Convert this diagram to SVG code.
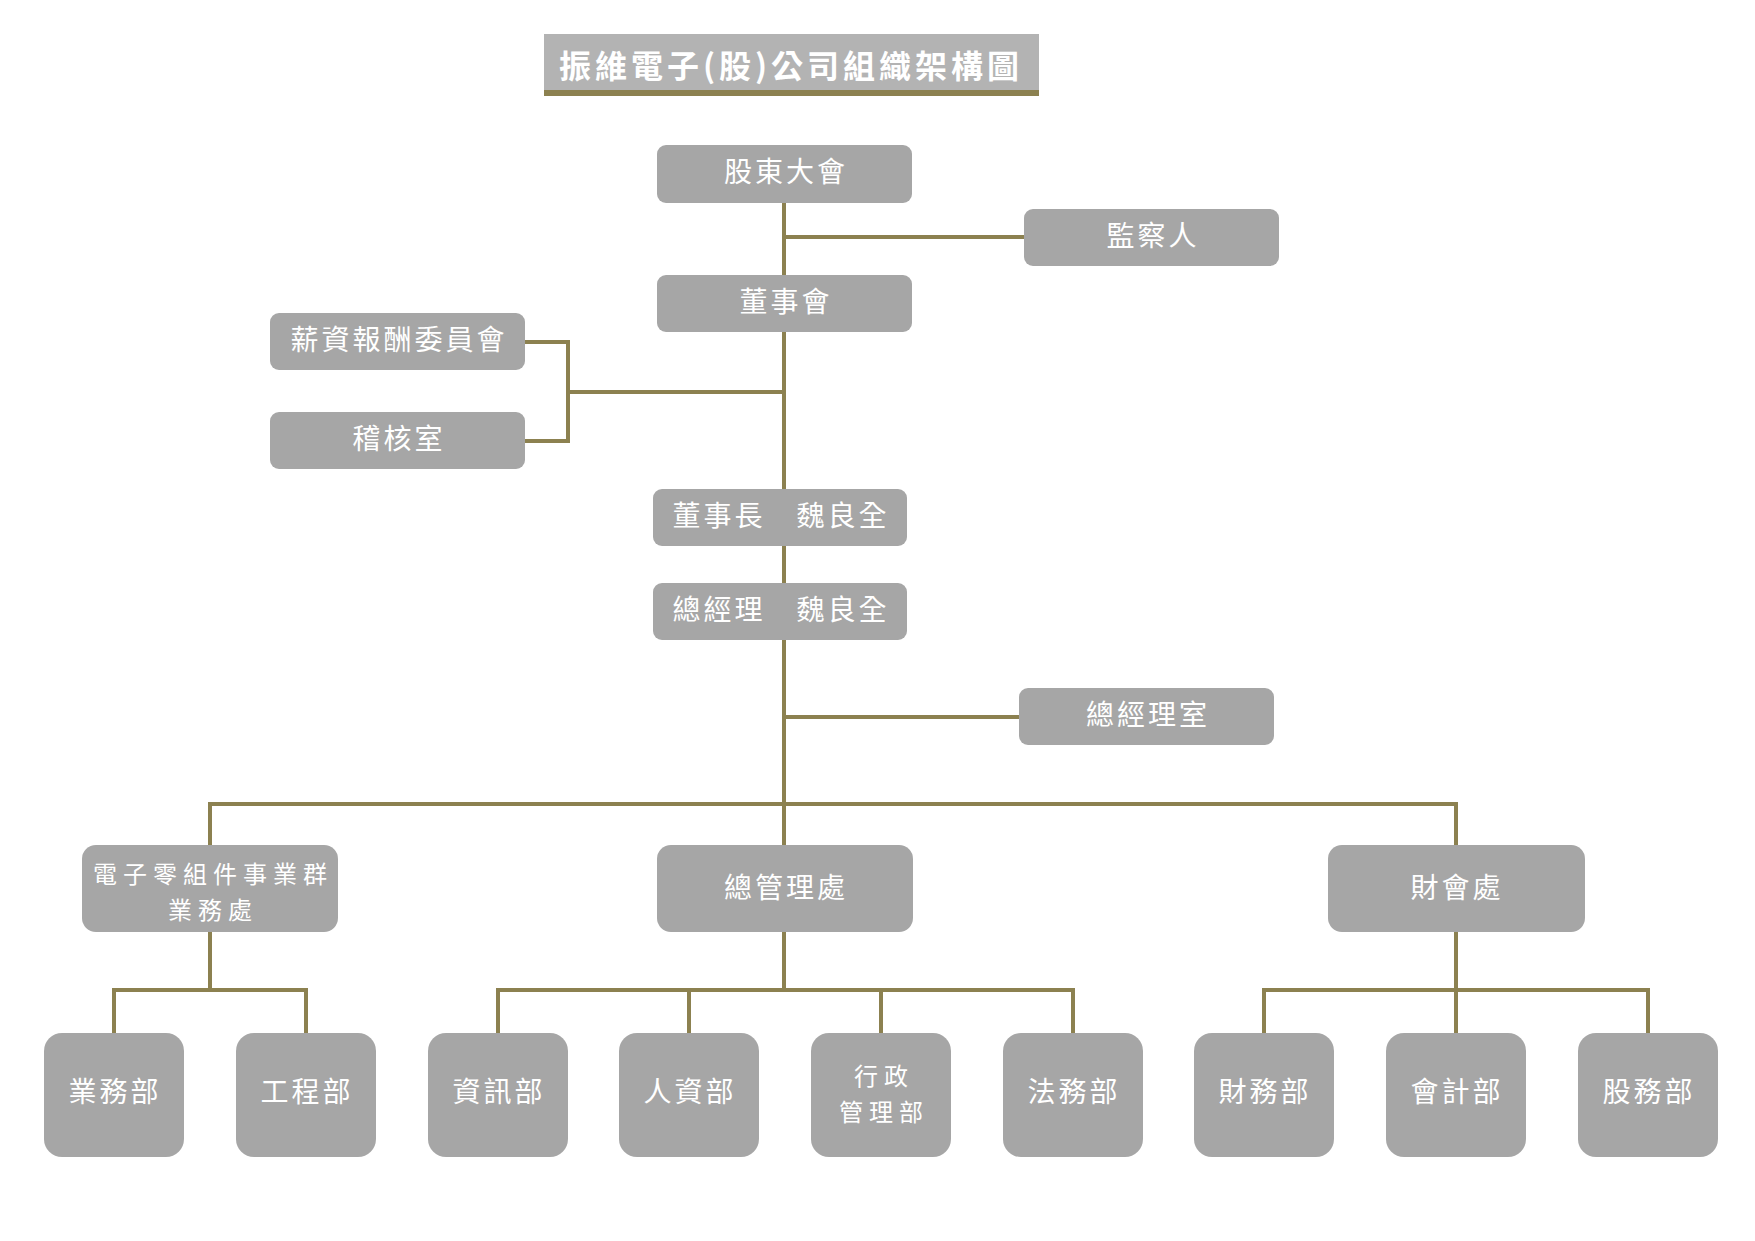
<svg xmlns="http://www.w3.org/2000/svg" width="1755" height="1241" viewBox="0 0 1755 1241">
<style>
.box{fill:#a6a6a6}
.t{font-family:"Noto Sans CJK TC","Noto Sans CJK SC",sans-serif;font-size:28px;fill:#ffffff;text-anchor:middle;dominant-baseline:central;letter-spacing:3px}
.t2{font-size:24px;letter-spacing:6px}
.title{font-family:"Noto Sans CJK TC","Noto Sans CJK SC",sans-serif;font-size:32px;font-weight:bold;fill:#ffffff;text-anchor:middle;letter-spacing:4px}
.ln{fill:none;stroke:#8c8150;stroke-width:4}
</style>
<rect width="1755" height="1241" fill="#ffffff"/>
<g id="title">
<rect x="544" y="34" width="495" height="57" fill="#b3b3b3"/>
<rect x="544" y="90" width="495" height="6" fill="#8c8150"/>
<text class="title" x="791" y="78">振維電子(股)公司組織架構圖</text>
</g>
<g id="connectors">
<path class="ln" d="M784 203V275M784 237H1024"/>
<path class="ln" d="M784 332V489M784 392H568M525 342H568V441H525"/>
<path class="ln" d="M784 546V583"/>
<path class="ln" d="M784 640V845M784 717H1019"/>
<path class="ln" d="M210 845V804H1456V845"/>
<path class="ln" d="M210 932V990M114 1033V990H306V1033"/>
<path class="ln" d="M784 932V990M498 1033V990H1073V1033M689 990V1033M881 990V1033"/>
<path class="ln" d="M1456 932V990M1264 1033V990H1648V1033M1456 990V1033"/>
</g>
<g id="n-shareholders"><rect class="box" x="657" y="145" width="255" height="58" rx="9"/><text class="t" x="786" y="170">股東大會</text></g>
<g id="n-supervisor"><rect class="box" x="1024" y="209" width="255" height="57" rx="9"/><text class="t" x="1153" y="234">監察人</text></g>
<g id="n-board"><rect class="box" x="657" y="275" width="255" height="57" rx="9"/><text class="t" x="786" y="300">董事會</text></g>
<g id="n-comp"><rect class="box" x="270" y="313" width="255" height="57" rx="9"/><text class="t" x="399" y="338">薪資報酬委員會</text></g>
<g id="n-audit"><rect class="box" x="270" y="412" width="255" height="57" rx="9"/><text class="t" x="399" y="437">稽核室</text></g>
<g id="n-chairman"><rect class="box" x="653" y="489" width="254" height="57" rx="9"/><text class="t" x="781" y="514">董事長　魏良全</text></g>
<g id="n-gm"><rect class="box" x="653" y="583" width="254" height="57" rx="9"/><text class="t" x="781" y="608">總經理　魏良全</text></g>
<g id="n-gmoffice"><rect class="box" x="1019" y="688" width="255" height="57" rx="9"/><text class="t" x="1148" y="713">總經理室</text></g>
<g id="n-ecbiz"><rect class="box" x="82" y="845" width="256" height="87" rx="14"/><text class="t t2" x="213" y="872">電子零組件事業群</text><text class="t t2" x="213" y="908">業務處</text></g>
<g id="n-admin"><rect class="box" x="657" y="845" width="256" height="87" rx="14"/><text class="t" x="786" y="886">總管理處</text></g>
<g id="n-finance"><rect class="box" x="1328" y="845" width="257" height="87" rx="14"/><text class="t" x="1457" y="886">財會處</text></g>
<g id="n-sales"><rect class="box" x="44" y="1033" width="140" height="124" rx="18"/><text class="t" x="115" y="1090">業務部</text></g>
<g id="n-eng"><rect class="box" x="236" y="1033" width="140" height="124" rx="18"/><text class="t" x="307" y="1090">工程部</text></g>
<g id="n-it"><rect class="box" x="428" y="1033" width="140" height="124" rx="18"/><text class="t" x="499" y="1090">資訊部</text></g>
<g id="n-hr"><rect class="box" x="619" y="1033" width="140" height="124" rx="18"/><text class="t" x="690" y="1090">人資部</text></g>
<g id="n-adm"><rect class="box" x="811" y="1033" width="140" height="124" rx="18"/><text class="t t2" x="884" y="1074">行政</text><text class="t t2" x="884" y="1110">管理部</text></g>
<g id="n-legal"><rect class="box" x="1003" y="1033" width="140" height="124" rx="18"/><text class="t" x="1074" y="1090">法務部</text></g>
<g id="n-fin"><rect class="box" x="1194" y="1033" width="140" height="124" rx="18"/><text class="t" x="1265" y="1090">財務部</text></g>
<g id="n-acct"><rect class="box" x="1386" y="1033" width="140" height="124" rx="18"/><text class="t" x="1457" y="1090">會計部</text></g>
<g id="n-stock"><rect class="box" x="1578" y="1033" width="140" height="124" rx="18"/><text class="t" x="1649" y="1090">股務部</text></g>
</svg>
